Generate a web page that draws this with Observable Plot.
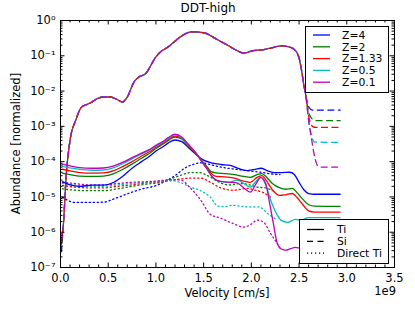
<!DOCTYPE html>
<html><head><meta charset="utf-8">
<script src="https://cdn.jsdelivr.net/npm/d3@7"></script>
<script src="https://cdn.jsdelivr.net/npm/@observablehq/plot@0.6"></script>
<style>body{margin:0;background:#fff} svg{font-family:"DejaVu Sans",sans-serif}</style>
</head><body><div id="chart"></div>
<script>
const title = "DDT-high";
const xLabel = "Velocity [cm/s]";
const yLabel = "Abundance [normalized]";
const xOffsetLabel = "1e9";
const zLabels = ["Z=4","Z=2","Z=1.33","Z=0.5","Z=0.1"];
const zColors = ["#0000ff","#008000","#ff0000","#00bfbf","#bf00bf"];
const kindLabels = ["Ti","Si","Direct Ti"];
const xMajor = [0,0.5,1,1.5,2,2.5,3,3.5];
const yMajor = [1e-7,1e-6,1e-5,1e-4,1e-3,1e-2,1e-1,1];

// Ti (solid), [velocity/1e9, abundance]
const tiZ4 = [[0.02,2.7e-5],[0.1,2.2e-5],[0.2,2.0e-5],[0.33,2.15e-5],[0.45,2.15e-5],[0.56,2.6e-5],[0.65,3.8e-5],[0.75,6.5e-5],[0.85,1.0e-4],[0.93,1.4e-4],[1.0,2.0e-4],[1.07,2.6e-4],[1.13,3.4e-4],[1.2,4.1e-4],[1.27,3.7e-4],[1.34,2.5e-4],[1.42,1.6e-4],[1.5,1.1e-4],[1.58,9.3e-5],[1.68,8.3e-5],[1.78,7.8e-5],[1.88,6.2e-5],[1.96,5.6e-5],[2.04,6.0e-5],[2.1,6.5e-5],[2.17,5.5e-5],[2.24,4.9e-5],[2.32,4.9e-5],[2.4,5.0e-5],[2.45,4.3e-5],[2.5,2.6e-5],[2.55,1.6e-5],[2.6,1.25e-5],[2.66,1.19e-5],[2.93,1.19e-5]];
const tiZ2 = [[0.02,4.7e-5],[0.1,4.3e-5],[0.2,3.9e-5],[0.33,3.8e-5],[0.45,3.9e-5],[0.56,4.6e-5],[0.65,6.0e-5],[0.75,8.5e-5],[0.85,1.25e-4],[0.93,1.7e-4],[1.0,2.35e-4],[1.07,3.1e-4],[1.13,4.0e-4],[1.2,5.0e-4],[1.27,4.4e-4],[1.34,2.8e-4],[1.42,1.7e-4],[1.47,1.15e-4],[1.53,7.5e-5],[1.58,5.2e-5],[1.63,4.8e-5],[1.72,4.6e-5],[1.82,4.3e-5],[1.92,3.8e-5],[1.99,3.6e-5],[2.06,4.3e-5],[2.11,4.6e-5],[2.16,3.6e-5],[2.22,2.4e-5],[2.3,1.8e-5],[2.36,1.65e-5],[2.43,1.75e-5],[2.48,1.3e-5],[2.54,8.5e-6],[2.6,6.0e-6],[2.66,5.5e-6],[2.93,5.4e-6]];
const tiZ133 = [[0.02,6.1e-5],[0.1,5.5e-5],[0.2,4.9e-5],[0.33,4.7e-5],[0.45,4.8e-5],[0.56,5.6e-5],[0.65,7.2e-5],[0.75,1.0e-4],[0.85,1.45e-4],[0.93,1.9e-4],[1.0,2.55e-4],[1.07,3.3e-4],[1.13,4.2e-4],[1.2,5.3e-4],[1.27,4.6e-4],[1.34,2.9e-4],[1.42,1.7e-4],[1.47,1.15e-4],[1.53,7e-5],[1.58,4.6e-5],[1.63,3.8e-5],[1.72,3.7e-5],[1.82,3.4e-5],[1.92,2.8e-5],[1.99,2.6e-5],[2.06,3.6e-5],[2.11,4.0e-5],[2.16,2.8e-5],[2.22,1.6e-5],[2.3,1.1e-5],[2.36,1.15e-5],[2.43,1.25e-5],[2.48,9.5e-6],[2.54,6.0e-6],[2.6,4.0e-6],[2.66,3.7e-6],[2.93,3.7e-6]];
const tiZ05 = [[0.02,7.4e-5],[0.1,6.7e-5],[0.2,6.0e-5],[0.33,5.7e-5],[0.45,5.8e-5],[0.56,6.8e-5],[0.65,8.7e-5],[0.75,1.2e-4],[0.85,1.65e-4],[0.93,2.1e-4],[1.0,2.75e-4],[1.07,3.5e-4],[1.13,4.5e-4],[1.2,5.7e-4],[1.27,4.8e-4],[1.34,3.0e-4],[1.42,1.75e-4],[1.47,1.1e-4],[1.53,6.5e-5],[1.58,4.0e-5],[1.63,3.0e-5],[1.7,2.7e-5],[1.77,2.6e-5],[1.85,3.0e-5],[1.92,2.4e-5],[1.99,1.9e-5],[2.05,2.8e-5],[2.1,3.6e-5],[2.15,2.2e-5],[2.2,8.5e-6],[2.26,3.5e-6],[2.31,2.2e-6],[2.38,1.9e-6],[2.46,2.3e-6],[2.52,2.2e-6],[2.6,2.6e-6],[2.93,2.6e-6]];
const tiZ01 = [[0.02,8.5e-5],[0.1,7.6e-5],[0.2,6.8e-5],[0.33,6.5e-5],[0.45,6.6e-5],[0.56,7.6e-5],[0.65,9.5e-5],[0.75,1.3e-4],[0.85,1.75e-4],[0.93,2.2e-4],[1.0,2.9e-4],[1.07,3.7e-4],[1.13,4.8e-4],[1.2,6.0e-4],[1.27,5.0e-4],[1.34,3.1e-4],[1.42,1.75e-4],[1.47,1.1e-4],[1.53,6.5e-5],[1.58,4.0e-5],[1.63,3.0e-5],[1.7,2.7e-5],[1.78,2.6e-5],[1.85,2.5e-5],[1.92,1.8e-5],[1.99,1.36e-5],[2.05,2.4e-5],[2.1,3.6e-5],[2.15,2.4e-5],[2.19,7e-6],[2.23,1.8e-6],[2.27,5e-7],[2.31,3.4e-7],[2.36,3.1e-7],[2.41,3.4e-7],[2.46,3.7e-7],[2.52,3.5e-7],[2.93,3.5e-7]];

// Si (dashed): start value per Z, shared middle, tail per Z
const siStart = [[0.01,2.8e-7],[0.01,4.5e-7],[0.01,5e-7],[0.01,6e-7],[0.01,6e-7]];
const siCore = [[0.03,1.6e-6],[0.06,4.1e-5],[0.1,4.0e-4],[0.16,1.5e-3],[0.22,3.5e-3],[0.28,4.2e-3],[0.33,4.9e-3],[0.38,6.0e-3],[0.45,6.8e-3],[0.52,6.8e-3],[0.58,6.0e-3],[0.65,4.9e-3],[0.7,6.8e-3],[0.77,1.8e-2],[0.82,2.5e-2],[0.89,3.1e-2],[1.0,9.3e-2],[1.05,1.3e-1],[1.13,1.8e-1],[1.2,2.6e-1],[1.26,3.5e-1],[1.38,4.8e-1],[1.5,4.5e-1],[1.65,2.8e-1],[1.75,2.0e-1],[1.85,1.4e-1],[1.92,1.2e-1],[2.02,1.4e-1],[2.13,1.5e-1],[2.2,1.65e-1],[2.31,1.9e-1],[2.39,1.8e-1],[2.45,1.5e-1],[2.5,8.7e-2],[2.52,4.8e-2],[2.55,1.5e-2],[2.57,7.7e-3]];
const siTailZ4 = [[2.6,3.6e-3],[2.64,2.9e-3],[2.93,2.9e-3]];
const siTailZ2 = [[2.6,2.5e-3],[2.64,1.6e-3],[2.68,1.45e-3],[2.93,1.45e-3]];
const siTailZ133 = [[2.6,2.0e-3],[2.64,1.0e-3],[2.68,9.3e-4],[2.93,9.3e-4]];
const siTailZ05 = [[2.6,1.5e-3],[2.63,5.5e-4],[2.66,3.6e-4],[2.93,3.5e-4]];
const siTailZ01 = [[2.6,1.5e-3],[2.63,4.5e-4],[2.65,2.1e-4],[2.69,8e-5],[2.72,7e-5],[2.93,7e-5]];

// Direct Ti (dotted)
const dirZ4 = [[0.02,9.8e-6],[0.15,7.0e-6],[0.3,7.0e-6],[0.45,7.1e-6],[0.58,9.2e-6],[0.71,1.25e-5],[0.86,1.7e-5],[1.0,2.1e-5],[1.1,2.8e-5],[1.2,4.0e-5],[1.3,6.5e-5],[1.4,8.5e-5],[1.47,9.3e-5],[1.55,8.5e-5],[1.68,7.0e-5],[1.85,6.0e-5],[2.02,5.3e-5],[2.1,5.0e-5],[2.2,4.5e-5],[2.3,4.3e-5]];
const dirZ2 = [[0.02,1.7e-5],[0.15,1.55e-5],[0.3,1.5e-5],[0.45,1.5e-5],[0.6,1.7e-5],[0.75,2.0e-5],[0.9,2.3e-5],[1.05,2.6e-5],[1.15,3.2e-5],[1.25,4.0e-5],[1.36,4.9e-5],[1.45,4.9e-5],[1.55,3.9e-5],[1.65,2.7e-5],[1.76,2.2e-5],[1.9,2.4e-5],[1.98,2.2e-5],[2.06,1.9e-5],[2.15,1.8e-5],[2.22,1.5e-5]];
const dirZ133 = [[0.02,2.1e-5],[0.15,1.9e-5],[0.3,1.8e-5],[0.45,1.8e-5],[0.6,2.0e-5],[0.75,2.2e-5],[0.9,2.5e-5],[1.05,2.7e-5],[1.15,2.9e-5],[1.25,3.2e-5],[1.36,3.4e-5],[1.47,3.4e-5],[1.57,2.6e-5],[1.68,1.8e-5],[1.81,1.55e-5],[1.96,1.75e-5],[2.04,1.55e-5],[2.12,1.35e-5],[2.2,9.8e-6]];
const dirZ05 = [[0.02,2.4e-5],[0.15,2.2e-5],[0.3,2.0e-5],[0.45,2.0e-5],[0.6,2.2e-5],[0.75,2.4e-5],[0.9,2.6e-5],[1.05,2.8e-5],[1.15,2.9e-5],[1.25,2.6e-5],[1.36,1.9e-5],[1.47,1.5e-5],[1.57,9.8e-6],[1.65,5.5e-6],[1.72,5.3e-6],[1.8,5.8e-6],[1.9,5.4e-6],[2.0,5.2e-6],[2.08,5.2e-6],[2.17,3.4e-6],[2.27,2.2e-6]];
const dirZ01 = [[0.02,2.6e-5],[0.15,2.4e-5],[0.3,2.2e-5],[0.45,2.2e-5],[0.6,2.4e-5],[0.75,2.6e-5],[0.9,2.7e-5],[1.05,2.9e-5],[1.15,3.1e-5],[1.26,3.0e-5],[1.36,1.8e-5],[1.47,8.1e-6],[1.57,3.2e-6],[1.68,2.5e-6],[1.8,1.8e-6],[1.92,1.4e-6],[2.0,1.7e-6],[2.06,2.2e-6],[2.13,1.9e-6],[2.2,9.3e-7],[2.27,4.8e-7],[2.3,3.5e-7]];

const tiSeries = [tiZ4, tiZ2, tiZ133, tiZ05, tiZ01];
const siTails = [siTailZ4, siTailZ2, siTailZ133, siTailZ05, siTailZ01];
const dirSeries = [dirZ4, dirZ2, dirZ133, dirZ05, dirZ01];

function rows(seriesList) {
  return seriesList.flatMap((pts, i) => pts.map(([v, a]) => ({v, a, z: zLabels[i]})));
}
const tiRows = rows(tiSeries);
const siRows = rows(zLabels.map((_, i) => [siStart[i], ...siCore, ...siTails[i]]));
const dirRows = rows(dirSeries);

const W = 415, H = 312, mL = 60, mR = 21, mT = 20, mB = 45;
const pw = W - mL - mR, ph = H - mT - mB;
const xMinor = d3.range(0, 36).map(i => i / 10).filter(v => !xMajor.some(m => Math.abs(m - v) < 1e-9));
const yMinor = d3.range(-7, 0).flatMap(e => d3.range(2, 10).map(k => k * Math.pow(10, e)));
const supMap = {"-":"\u207B","0":"\u2070","1":"\u00B9","2":"\u00B2","3":"\u00B3","4":"\u2074","5":"\u2075","6":"\u2076","7":"\u2077","8":"\u2078","9":"\u2079"};
const fmtY = d => "10" + String(Math.round(Math.log10(d))).split("").map(c => supMap[c]).join("");

const DASH = "6,4.5", DOT = "1.2,2.8";
const lineOpts = {x: "v", y: "a", z: "z", stroke: "z", strokeWidth: 1.3, curve: "monotone-x", clip: true};
const fs = 11.5, lfs = 10.8;

const chart = Plot.plot({
  width: W, height: H, marginLeft: mL, marginRight: mR, marginTop: mT, marginBottom: mB,
  style: {fontFamily: "DejaVu Sans", fontSize: fs + "px", background: "white"},
  x: {domain: [0, 3.5]},
  y: {type: "log", domain: [1e-7, 1]},
  color: {domain: zLabels, range: zColors},
  marks: [
    Plot.line(dirRows, {...lineOpts, strokeDasharray: DOT}),
    Plot.line(siRows, {...lineOpts, strokeDasharray: DASH}),
    Plot.line(tiRows, lineOpts),
    Plot.frame({stroke: "black", strokeWidth: 1}),
    Plot.tickY(yMajor, {y: d => d, insetRight: pw - 4.5}),
    Plot.tickY(yMajor, {y: d => d, insetLeft: pw - 4.5}),
    Plot.tickY(yMinor, {y: d => d, insetRight: pw - 2.5}),
    Plot.tickY(yMinor, {y: d => d, insetLeft: pw - 2.5}),
    Plot.tickX(xMajor, {x: d => d, insetTop: ph - 4.5}),
    Plot.tickX(xMajor, {x: d => d, insetBottom: ph - 4.5}),
    Plot.tickX(xMinor, {x: d => d, insetTop: ph - 2.5}),
    Plot.tickX(xMinor, {x: d => d, insetBottom: ph - 2.5}),
    Plot.axisX({ticks: xMajor, tickSize: 0, tickPadding: 6, tickFormat: d3.format(".1f"), label: null, fontSize: fs}),
    Plot.axisY({ticks: yMajor, tickSize: 0, tickPadding: 5, tickFormat: fmtY, label: null, fontSize: fs})
  ]
});
document.getElementById("chart").appendChild(chart);

const svg = d3.select(chart);
function addText(txt, x, y, anchor, size, rotate) {
  svg.append("text")
    .attr("transform", `translate(${x},${y})` + (rotate ? ` rotate(${rotate})` : ""))
    .attr("text-anchor", anchor).attr("dy", "0.36em")
    .attr("font-size", size).attr("fill", "black").text(txt);
}
addText(title, 208, 7.5, "middle", 12);
addText(xLabel, mL + pw / 2, 293, "middle", fs);
addText(xOffsetLabel, 396, 291, "end", fs);
addText(yLabel, 16, mT + ph / 2, "middle", fs, -90);

// legends
function legend(x, y, w, h, items, lineX0, lineX1, textX, rowY0, rowStep) {
  const g = svg.append("g").attr("text-anchor", "start");
  g.append("rect").attr("x", x).attr("y", y).attr("width", w).attr("height", h)
    .attr("fill", "white").attr("stroke", "black").attr("stroke-width", 1);
  items.forEach((it, i) => {
    const yy = rowY0 + i * rowStep;
    g.append("line").attr("x1", lineX0).attr("x2", lineX1).attr("y1", yy).attr("y2", yy)
      .attr("stroke", it.color).attr("stroke-width", 1.3).attr("stroke-dasharray", it.dash || null);
    g.append("text").attr("x", textX).attr("y", yy).attr("dy", "0.36em")
      .attr("text-anchor", "start").attr("font-size", lfs).attr("fill", "black").text(it.label);
  });
}
legend(305.5, 26.5, 83, 66, zLabels.map((l, i) => ({label: l, color: zColors[i]})), 313, 330, 342, 35, 11.8);
legend(299.5, 219.5, 89, 44, [
  {label: kindLabels[0], color: "black"},
  {label: kindLabels[1], color: "black", dash: DASH},
  {label: kindLabels[2], color: "black", dash: DOT}
], 307, 324, 337, 229.5, 11.8);
</script></body></html>
